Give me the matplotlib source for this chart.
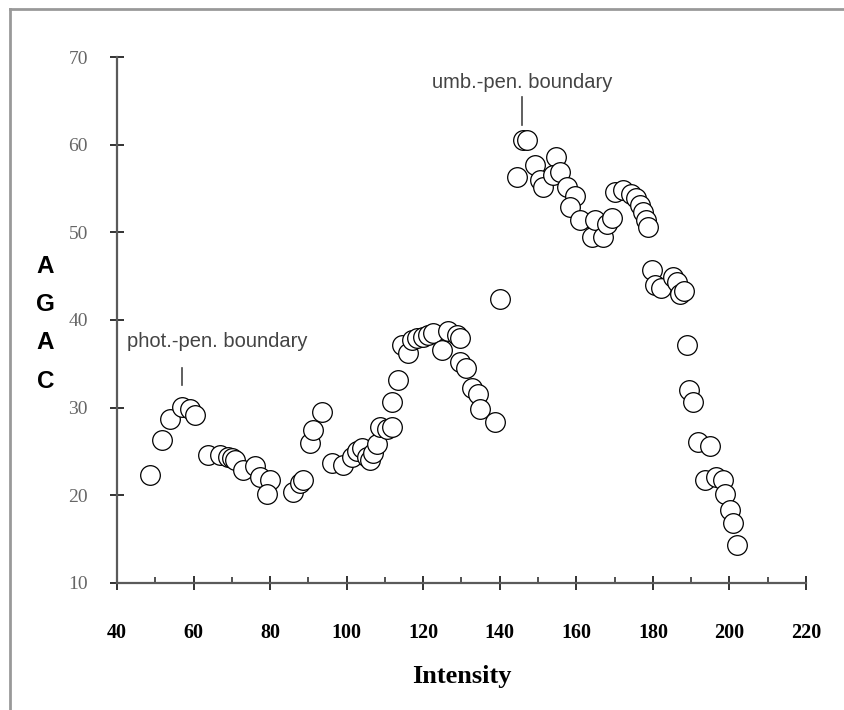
import matplotlib.pyplot as plt
import numpy as np
from matplotlib.lines import Line2D

# intensity vs AGAC
intensity = [48.6, 51.7, 53.8, 56.9, 59.1, 60.4,
             63.8, 66.9, 69.1, 70.0, 70.8, 73.0, 76.0, 77.4, 80.0, 79.1,
             86.1, 87.8, 88.6, 90.4, 91.3, 93.5,
             96.1, 99.1, 101.3, 102.6, 103.9, 105.2, 106.1, 106.9, 107.8,
             108.7, 110.5, 111.8, 111.8, 113.5, 114.4, 116.1, 117.0, 118.3,
             120.0, 121.3, 122.6, 124.8, 126.5, 128.7, 129.6, 129.6, 131.3,
             132.7, 134.4, 134.8, 138.7, 140.0,
             146.1, 147.0, 144.4, 149.1, 150.4, 151.3, 154.8, 153.9, 155.7,
             157.5, 159.6, 158.3, 161.0, 164.0, 164.8, 167.0, 167.9, 169.2,
             170.1, 172.3, 174.4, 175.7, 176.6, 177.5, 178.3, 178.8,
             179.7, 180.5, 182.2, 185.3, 186.2, 187.1, 188.0,
             188.8, 189.3, 190.5, 191.8, 194.9, 193.6, 196.6, 198.4, 198.8,
             200.1, 201.0, 201.9]
agac = [22.3, 26.3, 28.7, 30.1, 29.9, 29.2,
        24.6, 24.6, 24.4, 24.3, 24.0, 22.9, 23.3, 22.1, 21.7, 20.2,
        20.4, 21.4, 21.7, 26.0, 27.4, 29.5,
        23.7, 23.5, 24.4, 25.0, 25.4, 24.4, 24.0, 24.8, 25.9,
        27.8, 27.6, 27.8, 30.7, 33.1, 37.1, 36.2, 37.7, 37.9,
        38.1, 38.3, 38.5, 36.6, 38.8, 38.3, 37.9, 35.2, 34.5,
        32.2, 31.6, 29.9, 28.4, 42.4,
        60.5, 60.5, 56.3, 57.7, 56.0, 55.2, 58.6, 56.5, 56.9,
        55.2, 54.1, 52.9, 51.4, 49.5, 51.4, 49.5, 51.0, 51.6,
        54.6, 54.8, 54.4, 53.9, 53.1, 52.3, 51.4, 50.6,
        45.7, 44.0, 43.6, 44.9, 44.3, 43.0, 43.3,
        37.1, 32.0, 30.7, 26.1, 25.6, 21.7, 22.1, 21.7, 20.2,
        18.3, 16.8, 14.3]

xticks = np.arange(40, 221, 20)
yticks = np.arange(10, 71, 10)

fig = plt.figure(figsize=(8.44, 7.10), dpi=100)
ax = fig.add_axes([0.1386, 0.1789, 0.8164, 0.7408])

ax.scatter(intensity, agac, s=200, facecolors='white', edgecolors='black',
           linewidths=0.9, zorder=3)

ax.set_xlim(40, 220)
ax.set_ylim(10, 70)
ax.set_xticks(xticks)
ax.set_xticks(np.arange(50, 220, 20), minor=True)
ax.set_yticks(yticks)

for s in ['top', 'right']:
    ax.spines[s].set_visible(False)
for s in ['left', 'bottom']:
    ax.spines[s].set_color('#5a5a5a')
    ax.spines[s].set_linewidth(1.6)

ax.tick_params(axis='both', which='major', direction='inout', length=10,
               width=1.4, color='#333333')
ax.tick_params(axis='x', which='minor', direction='in', length=4,
               width=1.2, color='#333333')
ax.tick_params(axis='x', pad=24)
ax.tick_params(axis='y', pad=16)

for lab in ax.get_xticklabels():
    lab.set_family('Liberation Serif')
    lab.set_fontweight('bold')
    lab.set_fontsize(14.5)
for lab in ax.get_yticklabels():
    lab.set_family('Liberation Serif')
    lab.set_fontsize(14)
    lab.set_color('#666666')

ax.set_xlabel('Intensity', family='Liberation Serif', fontweight='bold',
              fontsize=19, labelpad=16)

fig.text(0.054, 0.544, 'A\nG\nA\nC', family='Liberation Sans',
         fontweight='bold', fontsize=17.5, ha='center', va='center',
         linespacing=1.85)

# boundary labels
ax.text(66.1, 37.5, 'phot.-pen. boundary', family='Liberation Sans',
        fontsize=14.5, color='#444444', ha='center', va='center')
ax.plot([57.0, 57.0], [32.6, 34.5], color='#444444', lw=1.2)
ax.text(145.8, 67.1, 'umb.-pen. boundary', family='Liberation Sans',
        fontsize=14.5, color='#444444', ha='center', va='center')
ax.plot([145.8, 145.8], [62.2, 65.4], color='#444444', lw=1.2)

# partial frame around the figure
fig.add_artist(Line2D([10 / 844, 10 / 844], [0, 1 - 9 / 710],
                      transform=fig.transFigure, color='#999999', lw=2))
fig.add_artist(Line2D([10 / 844, 1], [1 - 9 / 710, 1 - 9 / 710],
                      transform=fig.transFigure, color='#999999', lw=2))

fig.savefig('out.png', dpi=100)
